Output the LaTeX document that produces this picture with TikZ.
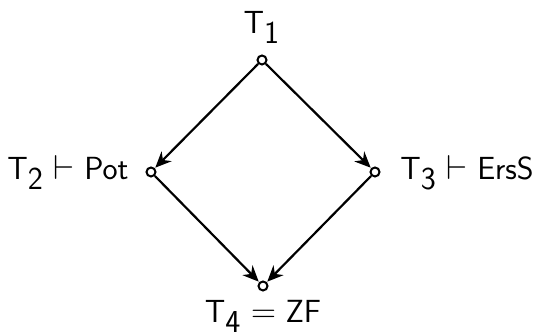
\documentclass[tikz,border=0pt]{standalone}
\usetikzlibrary{arrows.meta}
\newcommand{\sfm}[1]{\textsf{#1}}
\begin{document}
\begin{tikzpicture}[x=0.5pt,y=-0.5pt,
  dot/.style={circle,draw,line width=1pt,minimum size=4.5pt,inner sep=0pt},
  lbl/.style={font=\fontsize{16}{19}\selectfont\sffamily,inner sep=0pt},
  arr/.style={line width=1.1pt,-{Stealth[length=8pt,width=7pt]},shorten >=0.3pt}]
\useasboundingbox (0,0) rectangle (537,335);
\node[dot] (t) at (262,60) {};
\node[dot] (l) at (151,172) {};
\node[dot] (r) at (375,172) {};
\node[dot] (b) at (263,286) {};
\node[lbl,anchor=base] (lt) at (262,34) {$\sfm{T}_{\sfm{1}}$};
\node[lbl,anchor=base east] (ll) at (129,180) {$\sfm{T}_{\sfm{2}}\vdash\sfm{Pot}$};
\node[lbl,anchor=base west] (lr) at (400,180) {$\sfm{T}_{\sfm{3}}\vdash\sfm{ErsS}$};
\node[lbl,anchor=base] (lb) at (263,323) {$\sfm{T}_{\sfm{4}}=\sfm{ZF}$};
\draw[arr] (t) -- (l);
\draw[arr] (t) -- (r);
\draw[arr] (l) -- (b);
\draw[arr] (r) -- (b);
\end{tikzpicture}
\end{document}
